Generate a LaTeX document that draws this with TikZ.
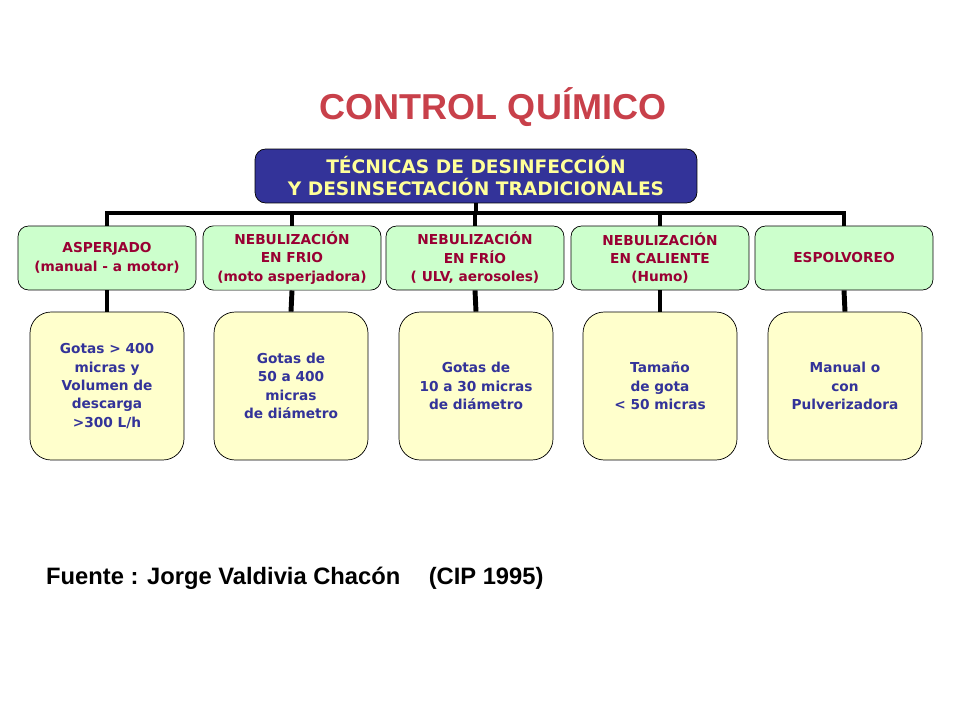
\documentclass[tikz,border=0pt]{standalone}
\usepackage{fontspec}
\setmainfont{DejaVu Sans}
\newfontfamily\arialfont{Liberation Sans}
\definecolor{navy}{HTML}{333399}
\definecolor{titlered}{HTML}{C8404A}
\definecolor{darkred}{HTML}{990033}
\definecolor{palegreen}{HTML}{CCFFCC}
\definecolor{paleyellow}{HTML}{FFFFCC}
\definecolor{lightyellow}{HTML}{FFFF99}
\begin{document}
\begin{tikzpicture}[x=0.02cm, y=-0.02cm,
    topbox/.style={draw=black, fill=navy, rounded corners=6pt, minimum width=8.84cm, minimum height=1.08cm,
        align=center, text=lightyellow, font=\fontsize{10.6}{12}\selectfont\bfseries},
    method/.style={draw=black, fill=palegreen, rounded corners=6pt, minimum width=3.56cm, minimum height=1.28cm,
        align=center, text=darkred, font=\fontsize{7.8}{10.5}\selectfont\bfseries},
    detail/.style={draw=black, fill=paleyellow, rounded corners=12pt, minimum width=3.08cm, minimum height=2.96cm,
        align=center, text=navy, font=\fontsize{7.8}{10.5}\selectfont\bfseries},
    link/.style={line width=2.8pt, black}
]
\useasboundingbox (0,0) rectangle (960,720);

\node[font=\arialfont\fontsize{20.5}{24}\selectfont\bfseries, text=titlered] (title) at (493,107) {CONTROL QUÍMICO};

\node[topbox] (top) at (476,176) {TÉCNICAS DE DESINFECCIÓN\\ Y DESINSECTACIÓN TRADICIONALES};

\node[method] (m1) at (107,258) {ASPERJADO\\(manual - a motor)};
\node[method] (m2) at (292,258) {NEBULIZACIÓN\\EN FRIO\\(moto asperjadora)};
\node[method] (m3) at (475,258) {NEBULIZACIÓN\\EN FRÍO\\( ULV, aerosoles)};
\node[method] (m4) at (660,258) {NEBULIZACIÓN\\EN CALIENTE\\(Humo)};
\node[method] (m5) at (844,258) {ESPOLVOREO};

\node[detail] (d1) at (107,386) {Gotas > 400\\micras y\\Volumen de\\descarga\\>300 L/h};
\node[detail] (d2) at (291,386) {Gotas de\\50 a 400\\micras\\de diámetro};
\node[detail] (d3) at (476,386) {Gotas de\\10 a 30 micras\\de diámetro};
\node[detail] (d4) at (660,386) {Tamaño\\de gota\\< 50 micras};
\node[detail] (d5) at (845,386) {Manual o\\con\\Pulverizadora};

\coordinate (bar) at (476,213);
\draw[link] (top.south) -- (bar);
\draw[link] (m1.north) |- (bar) -| (m5.north);
\foreach \i in {2,3,4} {
    \draw[link] (m\i.north) -- ++(0,-13);
}
\foreach \i in {1,...,5} {
    \draw[link] (m\i.south) -- (d\i.north);
}

\node[anchor=west, font=\arialfont\fontsize{13.5}{16}\selectfont\bfseries] (source) at (40,578)
    {Fuente : Jorge Valdivia Chacón\hspace{1.2em}(CIP 1995)};
\end{tikzpicture}
\end{document}
